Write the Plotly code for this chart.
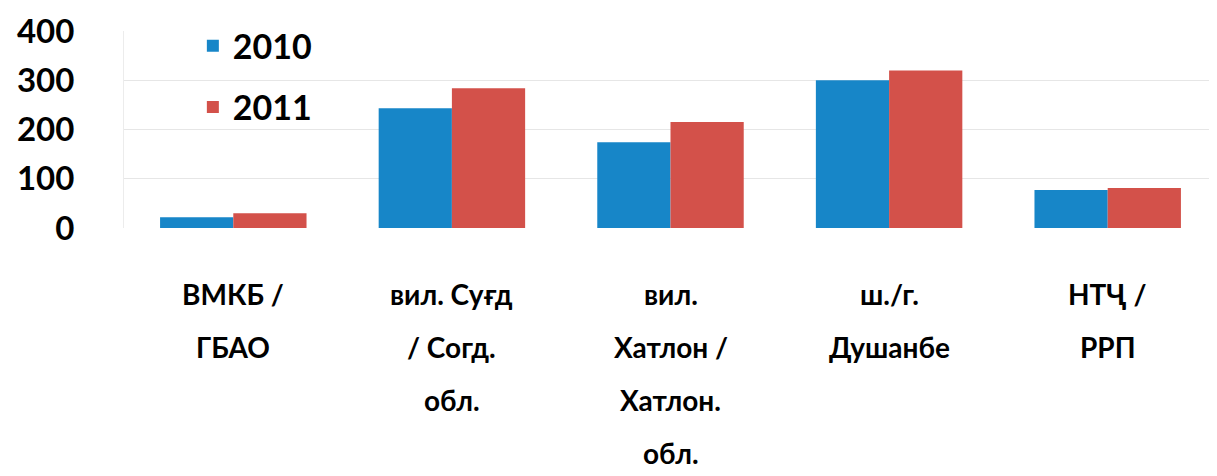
import plotly.graph_objects as go

categories = ["ВМКБ / ГБАО", "вил. Суғд / Согд. обл.", "вил. Хатлон / Хатлон. обл.",
              "ш./г. Душанбе", "НТҶ / РРП"]
label_lines = [["ВМКБ /", "ГБАО"],
               ["вил. Суғд", "/ Согд.", "обл."],
               ["вил.", "Хатлон /", "Хатлон.", "обл."],
               ["ш./г.", "Душанбе"],
               ["НТҶ /", "РРП"]]
values_2010 = [22, 243, 174, 300, 77]
values_2011 = [30, 284, 215, 320, 81]
y_ticks = [0, 100, 200, 300, 400]

FONT = "Lato"
BLUE = "#1786C8"
RED = "#D3514A"

fig = go.Figure()
fig.add_trace(go.Bar(name="2010", x=categories, y=values_2010, marker_color=BLUE,
                     marker_line_width=0, legendgroup="a"))
fig.add_trace(go.Bar(name="2011", x=categories, y=values_2011, marker_color=RED,
                     marker_line_width=0, legendgroup="b"))

annotations = []
for cat, lines in zip(categories, label_lines):
    for i, line in enumerate(lines):
        annotations.append(dict(
            x=cat, xref="x", y=0, yref="paper", text=line, showarrow=False,
            xanchor="center", yanchor="middle", yshift=-(66 + 53 * i),
            font=dict(family=FONT, size=28, color="#000000", weight="bold")))

fig.update_layout(
    width=1209, height=468,
    margin=dict(l=116, r=0, t=23, b=248),
    paper_bgcolor="white", plot_bgcolor="white",
    barmode="group", bargap=0.33, bargroupgap=0,
    font=dict(family=FONT),
    showlegend=True,
    legend=dict(x=0.063, y=1.07, xanchor="left", yanchor="top",
                font=dict(family=FONT, size=34, color="#000000", weight="bold"),
                tracegroupgap=14, bgcolor="rgba(0,0,0,0)"),
    xaxis=dict(showticklabels=False, showgrid=False, zeroline=False, showline=False),
    yaxis=dict(range=[0, 400], tickvals=y_ticks, ticktext=[str(v) for v in y_ticks],
               showgrid=True, gridcolor="#E6E6E6", gridwidth=1,
               zeroline=False, showline=True, linecolor="#ECECEC",
               ticklabelstandoff=42,
               tickfont=dict(family=FONT, size=33, color="#000000", weight="bold")),
    annotations=annotations,
)

fig.write_html("out.html")
